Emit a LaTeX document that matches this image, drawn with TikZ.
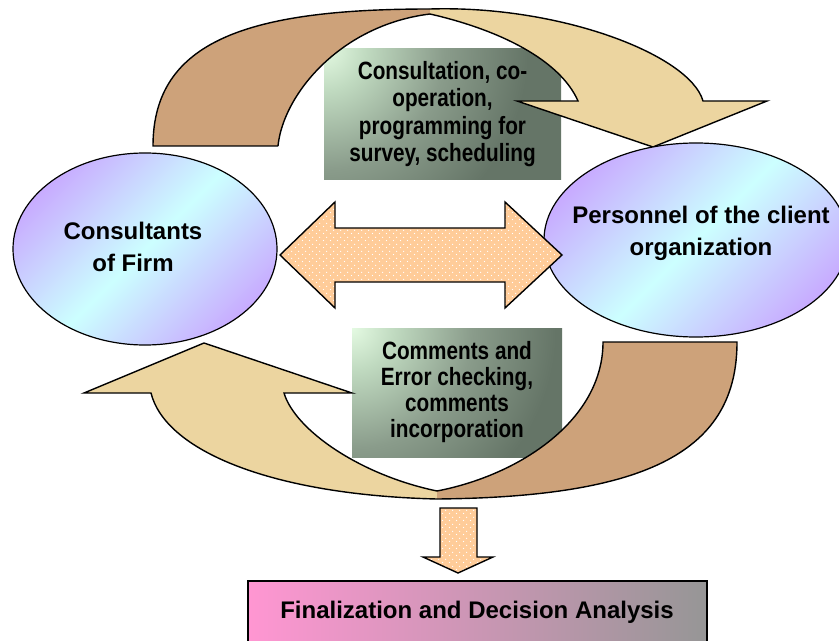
\documentclass[tikz,border=0pt]{standalone}
\usepackage{fontspec}
\setmainfont{Liberation Sans}
\newfontfamily\narrowsans{Liberation Sans}[FakeStretch=0.83]
\usetikzlibrary{shapes.geometric,patterns}
\pgfdeclarepatternformonly{mydots}{\pgfqpoint{0bp}{0bp}}{\pgfqpoint{7bp}{7bp}}{\pgfqpoint{7bp}{7bp}}{%
  \pgfpathcircle{\pgfqpoint{1.75bp}{1.75bp}}{0.75bp}%
  \pgfpathcircle{\pgfqpoint{5.25bp}{5.25bp}}{0.75bp}%
  \pgfusepath{fill}}
\definecolor{brownc}{RGB}{205,162,122}
\definecolor{lightc}{RGB}{236,213,160}
\definecolor{purp}{RGB}{200,172,255}
\definecolor{cyanl}{RGB}{204,255,255}
\definecolor{orng}{RGB}{255,204,153}
\definecolor{pk}{RGB}{255,150,210}
\definecolor{gy}{RGB}{150,150,150}
\definecolor{ga}{RGB}{228,250,226}
\definecolor{gb}{RGB}{192,218,192}
\definecolor{gc}{RGB}{138,156,139}
\definecolor{gd}{RGB}{101,117,103}
\pgfdeclareradialshading{greenrad}{\pgfpoint{0bp}{0bp}}{%
  color(0bp)=(ga); color(3.5bp)=(gb); color(10bp)=(gc); color(17bp)=(gd); color(50bp)=(gd)}
\tikzset{
  outl/.style={draw=black, line width=1.4bp},
  ell/.style={ellipse, inner sep=0pt, draw=black, line width=1.2bp,
    top color=purp, bottom color=purp, middle color=cyanl, shading angle=45},
  etext/.style={font=\fontsize{24bp}{32bp}\selectfont\bfseries, align=center, inner sep=0pt},
  gbox/.style={rectangle, inner sep=0pt, align=center,
    font=\narrowsans\fontsize{25bp}{27.5bp}\selectfont\bfseries,
    path picture={\shade[shading=greenrad]
      (path picture bounding box.north west) circle[radius=300bp];}},
  dotted arrow/.style={outl, preaction={fill=orng}, pattern=mydots, pattern color=white},
  fbox/.style={rectangle, inner sep=0pt, draw=black, line width=1.2bp,
    left color=pk, right color=gy},
  ftext/.style={font=\fontsize{24bp}{28bp}\selectfont\bfseries, inner sep=0pt}
}
\begin{document}
\begin{tikzpicture}[x=1bp,y=-1bp]
\useasboundingbox (0,0) rectangle (839,641);
\clip (0,0) rectangle (839,641);
\fill[white] (0,0) rectangle (839,641);

% green boxes
\node[gbox, minimum width=237bp, minimum height=130bp] (tb) at (442.5,114)
  {Consultation, co-\\operation,\\programming for\\survey, scheduling};
\node[gbox, minimum width=210bp, minimum height=129bp,
  font=\narrowsans\fontsize{25bp}{26bp}\selectfont\bfseries] (bb) at (457,392.5)
  {Comments and\\Error checking,\\comments\\incorporation};

% top curved arrow: back part
\fill[brownc] (153,146) .. controls (153,40) and (250,9) .. (430,9) -- (430,14)
  .. controls (340,25) and (283,95) .. (278,146) -- cycle;
\draw[outl] (278,146) -- (153,146) .. controls (153,40) and (250,9) .. (430,9);
\draw[outl] (430,14) .. controls (340,25) and (283,95) .. (278,146);
% top curved arrow: front part
\fill[lightc] (430,9) .. controls (560,5) and (690,55) .. (703,101) -- (767,101)
  -- (653,147) -- (517,101) -- (578,101) .. controls (560,60) and (500,30) .. (430,14) -- cycle;
\draw[outl] (430,9) .. controls (560,5) and (690,55) .. (703,101) -- (767,101)
  -- (653,147) -- (517,101) -- (578,101) .. controls (560,60) and (500,30) .. (430,14);

% bottom curved arrow: front part
\fill[lightc] (437,499) .. controls (270,495) and (165,450) .. (151,393) -- (84,393)
  -- (204,343) -- (352,393) -- (284,393) .. controls (295,430) and (360,475) .. (437,491) -- cycle;
\draw[outl] (437,499) .. controls (270,495) and (165,450) .. (151,393) -- (84,393)
  -- (204,343) -- (352,393) -- (284,393) .. controls (295,430) and (360,475) .. (437,491);
% bottom curved arrow: back part
\fill[brownc] (437,499) .. controls (650,497) and (737,450) .. (737,342) -- (603,342)
  .. controls (603,420) and (520,475) .. (437,491) -- cycle;
\draw[outl] (437,499) .. controls (650,497) and (737,450) .. (737,342) -- (603,342)
  .. controls (603,420) and (520,475) .. (437,491);

% ellipses
\node[ell, minimum width=264bp, minimum height=192bp] (cf) at (145,249) {};
\node[ell, minimum width=304bp, minimum height=194bp] (pc) at (696,240) {};
\node[etext] (cft) at (133,247) {Consultants\\of Firm};
\node[etext] (pct) at (701,233.5) {Personnel of the client\\organization};

% double arrow between the ellipses
\draw[dotted arrow] (280,255) -- (335,202) -- (335,228) -- (505,228) -- (505,202)
  -- (562,255) -- (505,308) -- (505,282) -- (335,282) -- (335,308) -- cycle;

% down arrow
\draw[dotted arrow] (440,508) -- (477,508) -- (477,557) -- (493,557) -- (458,573)
  -- (423,557) -- (440,557) -- cycle;

% final box
\node[fbox, minimum width=459bp, minimum height=80bp] (fb) at (477.5,621) {};
\node[ftext] (fbt) at (477,612) {Finalization and Decision Analysis};
\end{tikzpicture}
\end{document}
